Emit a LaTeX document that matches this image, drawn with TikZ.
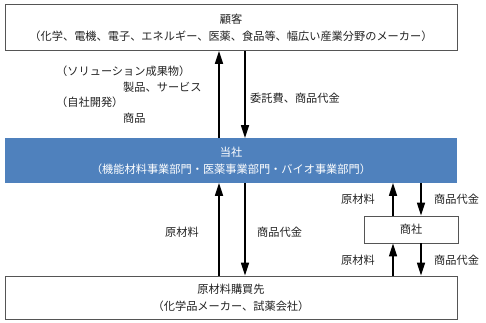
\documentclass[tikz,border=0pt]{standalone}
\usepackage{fontspec}
\setmainfont{Noto Sans CJK JP}
\usetikzlibrary{arrows.meta}
\definecolor{bluebox}{HTML}{4F81BD}
\definecolor{edge}{HTML}{555555}
\definecolor{txt}{HTML}{222222}
\begin{document}
\begin{tikzpicture}[x=1pt,y=-1pt,
  font=\fontsize{11.2}{17}\selectfont,
  box/.style={draw=edge,line width=0.9pt,fill=white,text=txt,align=center,inner sep=0pt},
  bluestyle/.style={fill=bluebox,draw=none,text=white,align=center,inner sep=0pt},
  lbl/.style={anchor=west,inner sep=0pt,text=txt},
  arr/.style={line width=1.6pt,-{Triangle[length=13pt,width=8pt]}}]
\useasboundingbox (0,0) rectangle (486,323);
\node[box,minimum width=452pt,minimum height=46pt] (cust) at (231,27.5)
  {顧客\\（化学、電機、電子、エネルギー、医薬、食品等、幅広い産業分野のメーカー）};
\node[bluestyle,minimum width=452pt,minimum height=44.5pt] (co) at (231,160.5)
  {当社\\（機能材料事業部門・医薬事業部門・バイオ事業部門）};
\node[box,minimum width=452pt,minimum height=43pt] (sup) at (231,297.5)
  {原材料購買先\\（化学品メーカー、試薬会社）};
\node[box,minimum width=94pt,minimum height=27pt] (trade) at (411,229.5) {商社};
% arrow columns
\coordinate (c1) at (219,0);
\coordinate (c2) at (245,0);
\coordinate (c3) at (393,0);
\coordinate (c4) at (421,0);
% customer <-> company
\draw[arr] (co.north -| c1) -- (cust.south -| c1);
\draw[arr] (cust.south -| c2) -- (co.north -| c2);
% company <-> supplier
\draw[arr] (sup.north -| c1) -- (co.south -| c1);
\draw[arr] (co.south -| c2) -- (sup.north -| c2);
% company <-> trading company
\draw[arr] (trade.north -| c3) -- (co.south -| c3);
\draw[arr] (co.south -| c4) -- (trade.north -| c4);
% trading company <-> supplier
\draw[arr] (sup.north -| c3) -- (trade.south -| c3);
\draw[arr] (trade.south -| c4) -- (sup.north -| c4);
% labels
\node[lbl] (l1) at (56,71) {（ソリューション成果物）};
\node[lbl] (l2) at (123,87) {製品、サービス};
\node[lbl] (l3) at (56,102.5) {（自社開発）};
\node[lbl] (l4) at (123,118) {商品};
\node[lbl] (l5) at (250,98) {委託費、商品代金};
\node[lbl] (l6) at (165,232) {原材料};
\node[lbl] (l7) at (257,232) {商品代金};
\node[lbl] (l8) at (341,199) {原材料};
\node[lbl] (l9) at (434,199) {商品代金};
\node[lbl] (l10) at (341,260) {原材料};
\node[lbl] (l11) at (434,260) {商品代金};
\end{tikzpicture}
\end{document}
